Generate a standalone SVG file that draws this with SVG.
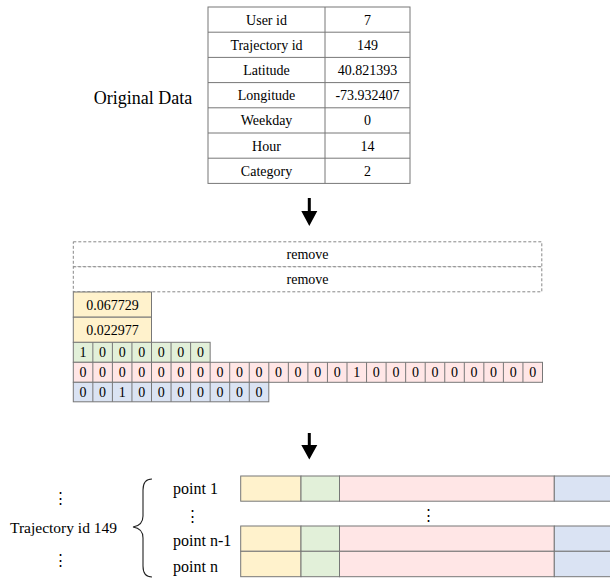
<svg xmlns="http://www.w3.org/2000/svg" width="610" height="578" viewBox="0 0 610 578">
<style>
text{font-family:"Liberation Serif","Times New Roman",serif;fill:#000;}
.t{font-size:14px;text-anchor:middle;}
.big{font-size:18px;}
.lb{font-size:16px;}
.lb2{font-size:15.5px;}
.dots{font-family:"DejaVu Serif",serif;font-size:15px;text-anchor:middle;}
.tbl{fill:#fff;stroke:#777;stroke-width:1;}
.grid{stroke:#777;stroke-width:1;fill:none;}
.dash{fill:#fff;stroke:#888;stroke-width:1;stroke-dasharray:3 2;}
.y{fill:#FFF2CC;stroke:#777;stroke-width:1;}
.g{fill:#E2F0D9;stroke:#777;stroke-width:1;}
.p{fill:#FFE6E6;stroke:#777;stroke-width:1;}
.b{fill:#DAE3F3;stroke:#777;stroke-width:1;}
.cl{stroke:#777;stroke-width:1;fill:none;}
.arr{fill:#000;}
</style>

<g id="original-data-label">
<text class="big" x="143" y="104" text-anchor="middle">Original Data</text>
</g>

<g id="original-table">
<rect class="tbl" x="208" y="7" width="202" height="176.4"/>
<path class="grid" d="M325,7V183.4 M208,32.2H410 M208,57.4H410 M208,82.6H410 M208,107.8H410 M208,133H410 M208,158.2H410"/>
<text class="t" x="266.5" y="24.6">User id</text><text class="t" x="367.5" y="24.6">7</text>
<text class="t" x="266.5" y="49.8">Trajectory id</text><text class="t" x="367.5" y="49.8">149</text>
<text class="t" x="266.5" y="75">Latitude</text><text class="t" x="367.5" y="75">40.821393</text>
<text class="t" x="266.5" y="100.2">Longitude</text><text class="t" x="367.5" y="100.2">-73.932407</text>
<text class="t" x="266.5" y="125.4">Weekday</text><text class="t" x="367.5" y="125.4">0</text>
<text class="t" x="266.5" y="150.6">Hour</text><text class="t" x="367.5" y="150.6">14</text>
<text class="t" x="266.5" y="175.8">Category</text><text class="t" x="367.5" y="175.8">2</text>
</g>

<g id="connectors">
<path class="arr" d="M307.8,198 H310.8 V211 H317.3 L309.3,226 L301.3,211 H307.8 Z"/>
<path class="arr" d="M307.8,433 H310.8 V445 H317.3 L309.3,459.5 L301.3,445 H307.8 Z"/>
</g>

<g id="encoded-features">
<rect class="dash" x="73.3" y="241.8" width="468.5" height="25"/>
<rect class="dash" x="73.3" y="266.8" width="468.5" height="25"/>
<text class="t" x="307.5" y="259.3">remove</text>
<text class="t" x="307.5" y="284.3">remove</text>

<rect class="y" x="73.3" y="292" width="78.2" height="25.2"/>
<rect class="y" x="73.3" y="317.2" width="78.2" height="25.2"/>
<text class="t" x="112.4" y="309.6">0.067729</text>
<text class="t" x="112.4" y="334.8">0.022977</text>

<rect class="g" x="73.3" y="342.3" width="136.85" height="20"/>
<path class="cl" d="M92.85,342.3v20 M112.4,342.3v20 M131.95,342.3v20 M151.5,342.3v20 M171.05,342.3v20 M190.6,342.3v20"/>
<text class="t" x="83.1" y="357.3">1</text><text class="t" x="102.6" y="357.3">0</text><text class="t" x="122.2" y="357.3">0</text><text class="t" x="141.7" y="357.3">0</text><text class="t" x="161.3" y="357.3">0</text><text class="t" x="180.8" y="357.3">0</text><text class="t" x="200.4" y="357.3">0</text>

<rect class="p" x="73.3" y="362.3" width="469.2" height="20"/>
<path class="cl" d="M92.85,362.3v20 M112.4,362.3v20 M131.95,362.3v20 M151.5,362.3v20 M171.05,362.3v20 M190.6,362.3v20 M210.15,362.3v20 M229.7,362.3v20 M249.25,362.3v20 M268.8,362.3v20 M288.35,362.3v20 M307.9,362.3v20 M327.45,362.3v20 M347,362.3v20 M366.55,362.3v20 M386.1,362.3v20 M405.65,362.3v20 M425.2,362.3v20 M444.75,362.3v20 M464.3,362.3v20 M483.85,362.3v20 M503.4,362.3v20 M522.95,362.3v20"/>
<text class="t" x="83.1" y="377.3">0</text><text class="t" x="102.6" y="377.3">0</text><text class="t" x="122.2" y="377.3">0</text><text class="t" x="141.7" y="377.3">0</text><text class="t" x="161.3" y="377.3">0</text><text class="t" x="180.8" y="377.3">0</text><text class="t" x="200.4" y="377.3">0</text><text class="t" x="219.9" y="377.3">0</text><text class="t" x="239.5" y="377.3">0</text><text class="t" x="259" y="377.3">0</text><text class="t" x="278.6" y="377.3">0</text><text class="t" x="298.1" y="377.3">0</text><text class="t" x="317.7" y="377.3">0</text><text class="t" x="337.2" y="377.3">0</text><text class="t" x="356.8" y="377.3">1</text><text class="t" x="376.3" y="377.3">0</text><text class="t" x="395.9" y="377.3">0</text><text class="t" x="415.4" y="377.3">0</text><text class="t" x="435" y="377.3">0</text><text class="t" x="454.5" y="377.3">0</text><text class="t" x="474.1" y="377.3">0</text><text class="t" x="493.6" y="377.3">0</text><text class="t" x="513.2" y="377.3">0</text><text class="t" x="532.7" y="377.3">0</text>

<rect class="b" x="73.3" y="382.3" width="195.5" height="19.5"/>
<path class="cl" d="M92.85,382.3v19.5 M112.4,382.3v19.5 M131.95,382.3v19.5 M151.5,382.3v19.5 M171.05,382.3v19.5 M190.6,382.3v19.5 M210.15,382.3v19.5 M229.7,382.3v19.5 M249.25,382.3v19.5"/>
<text class="t" x="83.1" y="397">0</text><text class="t" x="102.6" y="397">0</text><text class="t" x="122.2" y="397">1</text><text class="t" x="141.7" y="397">0</text><text class="t" x="161.3" y="397">0</text><text class="t" x="180.8" y="397">0</text><text class="t" x="200.4" y="397">0</text><text class="t" x="219.9" y="397">0</text><text class="t" x="239.5" y="397">0</text><text class="t" x="259" y="397">0</text>
</g>

<g id="trajectory-label">
<text class="dots" x="60" y="503">⋮</text>
<text class="lb2" x="10" y="533">Trajectory id 149</text>
<text class="dots" x="60" y="565">⋮</text>
<path d="M152,479 C145.5,479 143,483 143,490 L143,516 C143,522 140,526 133,527 C140,528 143,532 143,538 L143,566 C143,573 145.5,577 152,577" fill="none" stroke="#222" stroke-width="1.1"/>
</g>

<g id="point-labels">
<text class="lb" x="173" y="494">point 1</text>
<text class="dots" x="192" y="521">⋮</text>
<text class="lb" x="173" y="546">point n-1</text>
<text class="lb" x="173" y="572">point n</text>
</g>

<g id="point-rows">
<rect class="y" x="240.7" y="476" width="60.3" height="25.2"/>
<rect class="g" x="301" y="476" width="38.5" height="25.2"/>
<rect class="p" x="339.5" y="476" width="214.8" height="25.2"/>
<rect class="b" x="554.3" y="476" width="60" height="25.2"/>
<text class="dots" x="428" y="520">⋮</text>
<rect class="y" x="240.7" y="526" width="60.3" height="25.3"/>
<rect class="g" x="301" y="526" width="38.5" height="25.3"/>
<rect class="p" x="339.5" y="526" width="214.8" height="25.3"/>
<rect class="b" x="554.3" y="526" width="60" height="25.3"/>
<rect class="y" x="240.7" y="551.3" width="60.3" height="25.4"/>
<rect class="g" x="301" y="551.3" width="38.5" height="25.4"/>
<rect class="p" x="339.5" y="551.3" width="214.8" height="25.4"/>
<rect class="b" x="554.3" y="551.3" width="60" height="25.4"/>
</g>
</svg>
